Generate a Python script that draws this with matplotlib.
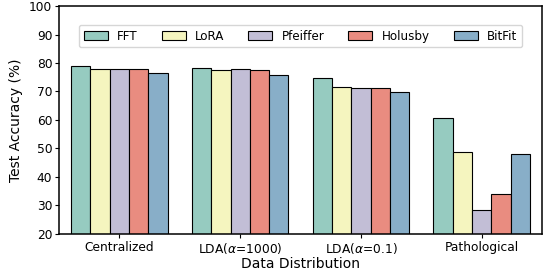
import numpy as np
import matplotlib
matplotlib.use("Agg")
import matplotlib.pyplot as plt

categories = ["Centralized", r"LDA($\alpha$=1000)", r"LDA($\alpha$=0.1)", "Pathological"]
methods = ["FFT", "LoRA", "Pfeiffer", "Holusby", "BitFit"]
fft = [78.8, 78.2, 74.9, 60.6]
lora = [77.9, 77.5, 71.5, 48.7]
pfeiffer = [77.8, 78.0, 71.3, 28.3]
holusby = [77.9, 77.4, 71.2, 33.9]
bitfit = [76.5, 75.8, 69.8, 48.1]
colors = ["#96cbc0", "#f5f5bf", "#c2bed6", "#e98c80", "#88aec8"]

series = [fft, lora, pfeiffer, holusby, bitfit]

fig = plt.figure(figsize=(5.46, 2.73), dpi=100)
ax = fig.add_axes([0.108, 0.143, 0.885, 0.835])

x = np.arange(len(categories))
width = 0.16
for i, (name, vals) in enumerate(zip(methods, series)):
    ax.bar(x + (i - 2) * width, vals, width, label=name, color=colors[i],
           edgecolor="black", linewidth=0.8)

ax.set_xlim(-0.5, 3.5)
ax.set_ylim(20, 100)
ax.set_yticks(range(20, 101, 10))
ax.set_xticks(x)
ax.set_xticklabels(categories)
ax.tick_params(labelsize=8.8, length=2.8, pad=2)
ax.set_xlabel("Data Distribution", fontsize=10, labelpad=1)
ax.set_ylabel("Test Accuracy (%)", fontsize=10)
for s in ax.spines.values():
    s.set_linewidth(1.1)

ax.legend(loc="upper center", bbox_to_anchor=(0.5, 0.917), borderaxespad=0,
          ncol=5, fontsize=8.6)

plt.savefig("out.png", dpi=100)
